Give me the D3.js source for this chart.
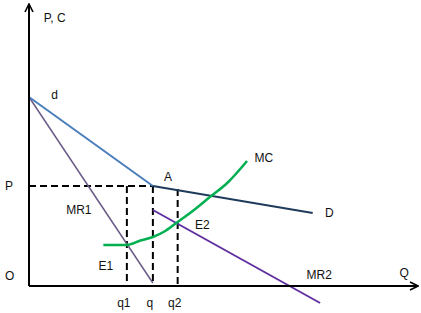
<!DOCTYPE html>
<html>
<head>
<meta charset="utf-8">
<script src="https://cdn.jsdelivr.net/npm/d3@7"></script>
<style>
  body { margin: 0; background: #fff; }
  text { font-family: "Liberation Sans", Arial, sans-serif; font-size: 12px; fill: #111; }
</style>
</head>
<body>
<script>
// kinked demand model, values in chart units (Q across, P/C up)
const demandUpper = [[0, 18.9], [10, 10]];      // d -> A
const demandLower = [[10, 10], [22.9, 7.3]];    // A -> D
const mr1 = [[0, 18.9], [10, 0.3]];
const mr2 = [[10, 7.6], [23.5, -1.7]];
const mc = [[6.0, 4.1], [7.9, 4.1], [9, 4.55], [10, 4.9], [11, 5.5], [12, 6.4],
            [13, 7.3], [14.6, 8.9], [16, 10.3], [17.6, 12.5]];
const priceP = 10;
const qTicks = [["q1", 7.9, 10.0], ["q", 10, 10], ["q2", 12, 9.7]];
const labels = [
  ["P, C", 1.2, 26.4], ["d", 1.8, 18.7], ["A", 10.9, 10.5], ["MC", 18.2, 12.4],
  ["D", 23.9, 6.9], ["MR1", 3.0, 7.2], ["E2", 13.4, 5.7], ["E1", 5.6, 1.6],
  ["MR2", 22.4, 0.7], ["Q", 29.9, 0.9]
];

const W = 421, H = 313;
const svg = d3.select("body").append("svg")
  .attr("width", W).attr("height", H);

const x = d3.scaleLinear().domain([0, 31.4]).range([29, 418]);
const y = d3.scaleLinear().domain([0, 28.2]).range([286, 4]);

const line = d3.line().x(d => x(d[0])).y(d => y(d[1]));

// dashed guides
svg.append("path")
  .attr("d", line([[0, priceP], [10, priceP]]))
  .attr("stroke", "#000").attr("stroke-width", 2)
  .attr("stroke-dasharray", "7,4").attr("fill", "none");
svg.selectAll(".guide")
  .data(qTicks).enter().append("path")
    .attr("class", "guide")
    .attr("d", d => line([[d[1], d[2]], [d[1], 0]]))
    .attr("stroke", "#000").attr("stroke-width", 2)
    .attr("stroke-dasharray", "7,4").attr("fill", "none");

// curves
svg.append("path").attr("d", line(mr1))
  .attr("stroke", "#6b5b85").attr("stroke-width", 1.5).attr("fill", "none");
svg.append("path").attr("d", line(demandUpper))
  .attr("stroke", "#4a7ebb").attr("stroke-width", 2).attr("fill", "none");
svg.append("path").attr("d", line(demandLower))
  .attr("stroke", "#1f3b5c").attr("stroke-width", 2).attr("fill", "none");
svg.append("path").attr("d", line(mr2))
  .attr("stroke", "#6030a0").attr("stroke-width", 2).attr("fill", "none");
svg.append("path").attr("d", line.curve(d3.curveMonotoneX)(mc))
  .attr("stroke", "#00b050").attr("stroke-width", 2.5).attr("fill", "none");

// axes
svg.append("defs").append("marker")
  .attr("id", "arr").attr("viewBox", "0 0 10 10")
  .attr("refX", 9).attr("refY", 5)
  .attr("markerWidth", 5).attr("markerHeight", 5)
  .attr("orient", "auto")
  .append("path").attr("d", "M1,1 L9,5 L1,9")
  .attr("fill", "none").attr("stroke", "#000").attr("stroke-width", 1.6);

svg.append("line")
  .attr("x1", x(0)).attr("y1", y(0)).attr("x2", x(0)).attr("y2", y(28.2))
  .attr("stroke", "#000").attr("stroke-width", 2).attr("marker-end", "url(#arr)");
svg.append("line")
  .attr("x1", x(0)).attr("y1", y(0)).attr("x2", x(31.4)).attr("y2", y(0))
  .attr("stroke", "#000").attr("stroke-width", 2).attr("marker-end", "url(#arr)");

// text
svg.selectAll(".lbl")
  .data(labels).enter().append("text")
    .attr("class", "lbl")
    .attr("x", d => x(d[1])).attr("y", d => y(d[2]))
    .text(d => d[0]);

svg.append("text").attr("x", 5).attr("y", y(priceP) + 4).text("P");
svg.append("text").attr("x", 5).attr("y", y(0) - 6).text("O");
svg.selectAll(".qlbl")
  .data(qTicks).enter().append("text")
    .attr("class", "qlbl")
    .attr("x", d => x(d[1]) - 3).attr("y", 307)
    .attr("text-anchor", "middle")
    .text(d => d[0]);
</script>
</body>
</html>
